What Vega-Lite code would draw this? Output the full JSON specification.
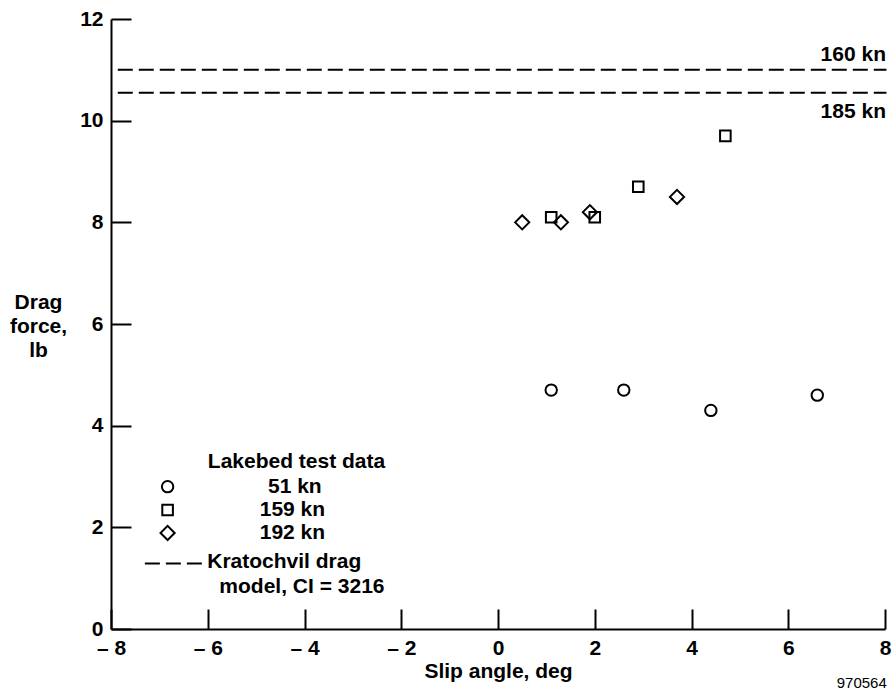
{
  "$schema": "https://vega.github.io/schema/vega-lite/v6.json",
  "width": 774,
  "height": 610,
  "autosize": "none",
  "padding": {"left": 111, "top": 19, "right": 8, "bottom": 65},
  "background": "white",
  "config": {
    "view": {"stroke": null},
    "font": "Liberation Sans",
    "axis": {"grid": false, "domainColor": "black", "domainWidth": 2, "tickColor": "black", "tickWidth": 2, "labelColor": "black", "titleColor": "black", "labelFont": "Liberation Sans", "titleFont": "Liberation Sans", "labelFontWeight": "bold", "titleFontWeight": "bold", "labelFontSize": 21, "titleFontSize": 21}
  },
  "datasets": {
    "points": [
      {"angle": 1.1, "drag": 4.7, "speed": "51 kn"},
      {"angle": 2.6, "drag": 4.7, "speed": "51 kn"},
      {"angle": 4.4, "drag": 4.3, "speed": "51 kn"},
      {"angle": 6.6, "drag": 4.6, "speed": "51 kn"},
      {"angle": 1.1, "drag": 8.1, "speed": "159 kn"},
      {"angle": 2.0, "drag": 8.1, "speed": "159 kn"},
      {"angle": 2.9, "drag": 8.7, "speed": "159 kn"},
      {"angle": 4.7, "drag": 9.7, "speed": "159 kn"},
      {"angle": 0.5, "drag": 8.0, "speed": "192 kn"},
      {"angle": 1.3, "drag": 8.0, "speed": "192 kn"},
      {"angle": 1.9, "drag": 8.2, "speed": "192 kn"},
      {"angle": 3.7, "drag": 8.5, "speed": "192 kn"}
    ],
    "model": [
      {"x1": -7.86, "x2": 8.03, "drag": 11.0, "label": "160 kn", "ly": 11.29},
      {"x1": -7.86, "x2": 8.03, "drag": 10.55, "label": "185 kn", "ly": 10.18}
    ],
    "legendSymbols": [
      {"angle": -6.83, "drag": 2.8, "speed": "51 kn", "tx": -4.2},
      {"angle": -6.83, "drag": 2.34, "speed": "159 kn", "tx": -4.25},
      {"angle": -6.83, "drag": 1.89, "speed": "192 kn", "tx": -4.25}
    ],
    "legendText": [
      {"x": -6.01, "y": 1.31, "text": "Kratochvil drag"},
      {"x": -5.76, "y": 0.83, "text": "model, CI = 3216"}
    ],
    "legendTitle": [
      {"x": -4.165, "y": 3.285, "text": "Lakebed test data"}
    ],
    "legendLine": [
      {"x1": -7.3, "x2": -6.02, "y": 1.29}
    ],
    "note": [
      {"x": 7.52, "y": -1.06, "text": "970564"}
    ]
  },
  "encoding": {},
  "layer": [
    {
      "data": {"name": "points"},
      "mark": {"type": "point", "filled": false, "stroke": "black", "strokeWidth": 2, "opacity": 1},
      "encoding": {
        "x": {"field": "angle", "type": "quantitative", "scale": {"domain": [-8, 8], "nice": false, "zero": false},
          "axis": {"values": [-8, -6, -4, -2, 0, 2, 4, 6, 8], "tickSize": -20, "labelPadding": 28, "title": "Slip angle, deg", "titleBaseline": "middle", "titleY": 42,
            "labelExpr": "datum.value < 0 ? '– ' + abs(datum.value) : datum.label", "labelFlush": false, "labelOverlap": false}},
        "y": {"field": "drag", "type": "quantitative", "scale": {"domain": [0, 12], "nice": false},
          "axis": {"values": [0, 2, 4, 6, 8, 10, 12], "tickSize": -20, "labelPadding": 28, "labelOverlap": false, "title": ["Drag", "force,", "lb"], "titleAngle": 0, "titleAlign": "center", "titleBaseline": "middle", "titleX": -73, "titleY": 283, "titleLineHeight": 24}},
        "shape": {"field": "speed", "type": "nominal", "scale": {"domain": ["51 kn", "159 kn", "192 kn"], "range": ["circle", "square", "diamond"]}, "legend": null},
        "size": {"field": "speed", "type": "nominal", "scale": {"type": "ordinal", "domain": ["51 kn", "159 kn", "192 kn"], "range": [130, 112, 200]}, "legend": null}
      }
    },
    {
      "data": {"name": "legendSymbols"},
      "mark": {"type": "point", "filled": false, "stroke": "black", "strokeWidth": 2, "opacity": 1},
      "encoding": {
        "x": {"field": "angle", "type": "quantitative"},
        "y": {"field": "drag", "type": "quantitative"},
        "shape": {"field": "speed", "type": "nominal", "scale": {"domain": ["51 kn", "159 kn", "192 kn"], "range": ["circle", "square", "diamond"]}, "legend": null},
        "size": {"field": "speed", "type": "nominal", "scale": {"type": "ordinal", "domain": ["51 kn", "159 kn", "192 kn"], "range": [130, 112, 200]}, "legend": null}
      }
    },
    {
      "data": {"name": "model"},
      "mark": {"type": "rule", "stroke": "black", "strokeWidth": 2, "strokeDash": [15, 6], "clip": false},
      "encoding": {
        "x": {"field": "x1", "type": "quantitative"},
        "x2": {"field": "x2"},
        "y": {"field": "drag", "type": "quantitative"}
      }
    },
    {
      "data": {"name": "model"},
      "mark": {"type": "text", "align": "right", "baseline": "middle", "fontSize": 21, "fontWeight": "bold", "font": "Liberation Sans", "color": "black", "dx": 1},
      "encoding": {
        "x": {"datum": 8, "type": "quantitative"},
        "y": {"field": "ly", "type": "quantitative"},
        "text": {"field": "label"}
      }
    },
    {
      "data": {"name": "legendSymbols"},
      "mark": {"type": "text", "align": "center", "baseline": "middle", "fontSize": 21, "fontWeight": "bold", "font": "Liberation Sans", "color": "black"},
      "encoding": {
        "x": {"field": "tx", "type": "quantitative"},
        "y": {"field": "drag", "type": "quantitative"},
        "text": {"field": "speed"}
      }
    },
    {
      "data": {"name": "legendTitle"},
      "mark": {"type": "text", "align": "center", "baseline": "middle", "fontSize": 21, "fontWeight": "bold", "font": "Liberation Sans", "color": "black"},
      "encoding": {
        "x": {"field": "x", "type": "quantitative"},
        "y": {"field": "y", "type": "quantitative"},
        "text": {"field": "text"}
      }
    },
    {
      "data": {"name": "legendText"},
      "mark": {"type": "text", "align": "left", "baseline": "middle", "fontSize": 21, "fontWeight": "bold", "font": "Liberation Sans", "color": "black"},
      "encoding": {
        "x": {"field": "x", "type": "quantitative"},
        "y": {"field": "y", "type": "quantitative"},
        "text": {"field": "text"}
      }
    },
    {
      "data": {"name": "legendLine"},
      "mark": {"type": "rule", "stroke": "black", "strokeWidth": 2, "strokeDash": [15, 6]},
      "encoding": {
        "x": {"field": "x1", "type": "quantitative"},
        "x2": {"field": "x2"},
        "y": {"field": "y", "type": "quantitative"}
      }
    },
    {
      "data": {"name": "note"},
      "mark": {"type": "text", "align": "center", "baseline": "middle", "fontSize": 15, "font": "Liberation Sans", "color": "black", "clip": false},
      "encoding": {
        "x": {"field": "x", "type": "quantitative"},
        "y": {"field": "y", "type": "quantitative"},
        "text": {"field": "text"}
      }
    }
  ]
}
